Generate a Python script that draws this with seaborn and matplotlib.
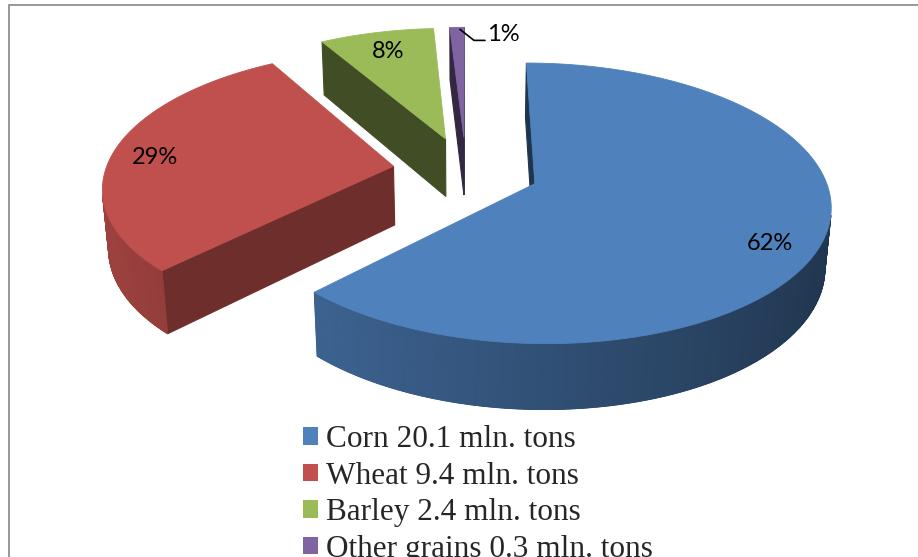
import numpy as np
import seaborn as sns
import matplotlib.pyplot as plt
import matplotlib.colors as mcolors
from matplotlib.patches import Polygon, Patch, Rectangle

# data
grains = ["Corn", "Wheat", "Barley", "Other grains"]
tons = [20.1, 9.4, 2.4, 0.3]
legend_labels = ["Corn 20.1 mln. tons", "Wheat 9.4 mln. tons",
                 "Barley 2.4 mln. tons", "Other grains 0.3 mln. tons"]
pct_labels = ["62%", "29%", "8%", "1%"]
colors = ["#4F81BD", "#C0504D", "#9BBB59", "#8064A2"]

sns.set_theme(style="white")

# 3d pie geometry (pixels / radius units)
W, H = 918, 557
R = 288
CX, CY = 466, 170.5
TILT = np.radians(27.7)
F = 6.4
DEPTH = 0.235
EXPLODE = 0.255
cam = np.array([0, -F * np.cos(TILT), F * np.sin(TILT)])


def project(p):
    x, y, z = p[..., 0], p[..., 1], p[..., 2]
    v = y * np.sin(TILT) + z * np.cos(TILT)
    w = y * np.cos(TILT) - z * np.sin(TILT)
    s = F / (F + w)
    return CX + R * x * s, CY - R * v * s


def depth(p):
    return p[1] * np.cos(TILT) - p[2] * np.sin(TILT)


def pt(ox, oy, th, r, z):
    return np.array([ox + r * np.sin(th), oy + r * np.cos(th), z])


fig = plt.figure(figsize=(9.18, 5.57), dpi=100)
ax = fig.add_axes([0, 0, 1, 1])
ax.set_xlim(0, W)
ax.set_ylim(H, 0)
ax.axis("off")

vals = np.array(tons)
frac = vals / vals.sum()
bounds = np.concatenate([[0], np.cumsum(frac)]) * 2 * np.pi

slices = []
for i in range(len(vals)):
    t0, t1 = bounds[i], bounds[i + 1]
    mid = (t0 + t1) / 2
    ox, oy = EXPLODE * np.sin(mid), EXPLODE * np.cos(mid)
    slices.append((oy, i, t0, t1, mid, ox))
slices.sort(reverse=True)  # back to front

for oy, i, t0, t1, mid, ox in slices:
    base = np.array(mcolors.to_rgb(colors[i]))
    ths = np.linspace(t0, t1, max(3, int(2 * np.degrees(t1 - t0)) + 2))
    faces = []
    vis_th = []
    # curved side
    for a, b in zip(ths[:-1], ths[1:]):
        m = (a + b) / 2
        n = np.array([np.sin(m), np.cos(m), 0])
        quad = np.array([pt(ox, oy, a, 1, 0), pt(ox, oy, b, 1, 0),
                         pt(ox, oy, b, 1, -DEPTH), pt(ox, oy, a, 1, -DEPTH)])
        c = quad.mean(axis=0)
        if n @ (cam - c) > 0:
            f = 0.62 - 0.21 * np.sin(m)
            faces.append((depth(c), quad, np.clip(base * f, 0, 1)))
            vis_th += [a, b]
    # solid backing under the curved side so the strips leave no seams
    if vis_th:
        arc = np.linspace(min(vis_th), max(vis_th), 200)
        band = np.array([pt(ox, oy, t, 1, 0) for t in arc] +
                        [pt(ox, oy, t, 1, -DEPTH) for t in arc[::-1]])
        X, Y = project(band)
        col = np.clip(base * (0.62 - 0.21 * np.sin(arc.mean())), 0, 1)
        ax.add_patch(Polygon(np.column_stack([X, Y]), closed=True,
                             facecolor=col, edgecolor=col, lw=0.5))
    # radial cut faces
    for th, n in [(t0, np.array([-np.cos(t0), np.sin(t0), 0])),
                  (t1, np.array([np.cos(t1), -np.sin(t1), 0]))]:
        quad = np.array([pt(ox, oy, th, 0, 0), pt(ox, oy, th, 1, 0),
                         pt(ox, oy, th, 1, -DEPTH), pt(ox, oy, th, 0, -DEPTH)])
        c = quad.mean(axis=0)
        if n @ (cam - c) > 0:
            f = 0.5 + 0.1 * n[0]
            faces.append((depth(c), quad, np.clip(base * f, 0, 1)))
    faces.sort(key=lambda t: -t[0])
    for d, quad, col in faces:
        X, Y = project(quad)
        ax.add_patch(Polygon(np.column_stack([X, Y]), closed=True,
                             facecolor=col, edgecolor=col, lw=0.8))
    # top face
    top = np.array([pt(ox, oy, 0, 0, 0)] + [pt(ox, oy, t, 1, 0) for t in ths])
    X, Y = project(top)
    ax.add_patch(Polygon(np.column_stack([X, Y]), closed=True,
                         facecolor=base, edgecolor=base, lw=0.6))

# percentage labels
label_frac = 0.8
nudges = [(6, 16), (-15, 5), (-1, 0)]
for i in range(3):
    t0, t1 = bounds[i], bounds[i + 1]
    mid = (t0 + t1) / 2
    ox, oy = EXPLODE * np.sin(mid), EXPLODE * np.cos(mid)
    X, Y = project(pt(ox, oy, mid, label_frac, 0))
    ax.text(X + nudges[i][0], Y + nudges[i][1], pct_labels[i], fontsize=17,
            family="Lato", ha="center", va="center", color="black")

# small slice label with leader line
mid = (bounds[3] + bounds[4]) / 2
ox, oy = EXPLODE * np.sin(mid), EXPLODE * np.cos(mid)
lx, ly = project(pt(ox, oy, mid, 1, 0))
ax.plot([lx + 3, lx + 17, lx + 28], [ly + 2, ly + 13, ly + 13],
        color="black", lw=1.2)
ax.text(lx + 30, ly + 7, pct_labels[3], fontsize=17, family="Lato",
        ha="left", va="center", color="black")

# chart area border
fig.patches.append(Rectangle((9 / W, -0.1), 1.2, 1 - 5 / H + 0.1,
                             transform=fig.transFigure, fill=False,
                             edgecolor="#868686", lw=1.2))

handles = [Patch(facecolor=c, edgecolor="none") for c in colors]
ax.legend(handles, legend_labels, loc="upper left",
          bbox_to_anchor=(303 / W, 1 - 425 / H), bbox_transform=fig.transFigure,
          frameon=False, borderpad=0, borderaxespad=0,
          prop={"family": "Liberation Serif", "size": 22.5},
          handlelength=0.49, handleheight=0.49, handletextpad=0.26,
          labelspacing=0.24)

fig.savefig("out.png", dpi=100)
